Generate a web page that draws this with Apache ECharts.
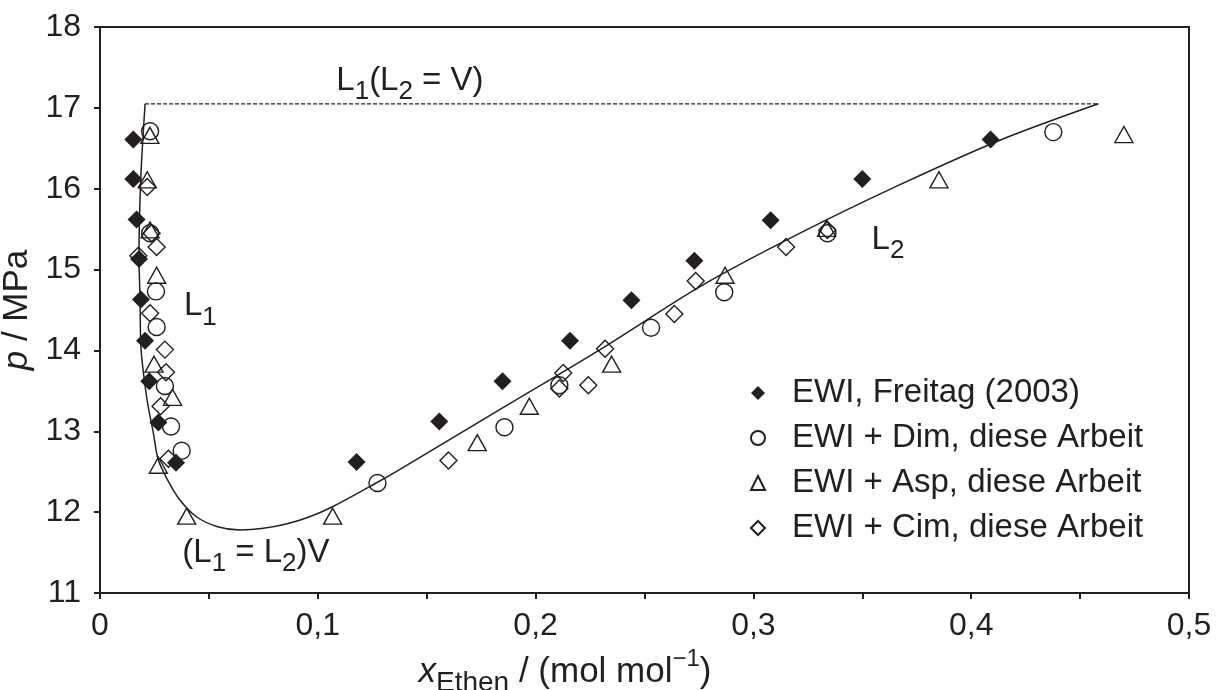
<!DOCTYPE html>
<html><head><meta charset="utf-8">
<script src="https://cdn.jsdelivr.net/npm/echarts@6/dist/echarts.min.js"></script>
<style>html,body{margin:0;padding:0;background:#fff}#c{width:1221px;height:690px}</style>
</head><body><div id="c"></div>
<script>
// ---- data ----
const freitagX = [0.0153,0.0153,0.0168,0.0179,0.0188,0.0207,0.0226,0.0268,0.0349,0.1178,0.1558,0.1848,0.2158,0.2440,0.2729,0.3079,0.3500,0.4089];
const freitagP = [16.61,16.12,15.62,15.13,14.63,14.12,13.62,13.11,12.61,12.62,13.12,13.62,14.12,14.62,15.11,15.61,16.12,16.61];

const dimX = [0.0230,0.0230,0.0257,0.0260,0.0298,0.0326,0.0375,0.1274,0.1857,0.2109,0.2530,0.2866,0.3340,0.4377];
const dimP = [16.71,15.45,14.73,14.29,13.56,13.06,12.76,12.36,13.05,13.57,14.28,14.72,15.45,16.70];

const aspX = [0.0229,0.0217,0.0230,0.0260,0.0248,0.0333,0.0268,0.0398,0.1068,0.1732,0.1971,0.2349,0.2870,0.3336,0.3852,0.4701];
const aspP = [16.66,16.11,15.49,14.93,13.83,13.42,12.58,11.95,11.95,12.86,13.31,13.83,14.93,15.51,16.11,16.67];

const cimX = [0.0176,0.0217,0.0237,0.0260,0.0230,0.0298,0.0303,0.0278,0.0314,0.1600,0.2109,0.2127,0.2242,0.2319,0.2637,0.2735,0.3150,0.3340];
const cimP = [15.17,16.02,15.45,15.28,14.46,14.01,13.73,13.31,12.66,12.64,13.53,13.72,13.57,14.02,14.45,14.86,15.28,15.49];

const curveX = [0.0207,0.0187,0.0179,0.0184,0.0188,0.0216,0.0245,0.0267,0.0310,0.0367,0.0444,0.0540,0.0643,0.0750,0.0850,0.0950,0.1070,0.1274,0.1377,0.1837,0.2296,0.2755,0.3214,0.3673,0.4132,0.4584];
const curveP = [17.05,16.11,15.16,14.63,14.04,13.39,12.98,12.65,12.40,12.15,11.94,11.82,11.78,11.80,11.85,11.93,12.07,12.37,12.53,13.27,14.01,14.79,15.45,16.05,16.60,17.05];

const dashX = [0.0207,0.4584];
const dashP = [17.05,17.05];

const seriesNames = ['EWI, Freitag (2003)','EWI + Dim, diese Arbeit','EWI + Asp, diese Arbeit','EWI + Cim, diese Arbeit'];

// annotation texts and anchor positions (data coordinates)
const annoText = ['{m|L}{s|1}{m|(L}{s|2}{m| = V)}','{m|L}{s|1}','{m|L}{s|2}','{m|(L}{s|1}{m| = L}{s|2}{m|)V}'];
const annoX = [0.1423,0.0461,0.3618,0.0716];
const annoP = [17.33,14.545,15.367,11.50];

// ---- chart ----
const INK = '#231f20';
const FONT = '"Liberation Sans", Arial, Helvetica, sans-serif';
const pairs = (xs, ys) => xs.map((x, i) => [x, ys[i]]);
const rich = {
  m: {fontSize: 33, lineHeight: 48, fontFamily: FONT, color: INK},
  s: {fontSize: 26, lineHeight: 27, fontFamily: FONT, color: INK, verticalAlign: 'bottom'}
};
const titleRich = {
  m: {fontSize: 35, lineHeight: 50, fontFamily: FONT, color: INK},
  i: {fontSize: 35, lineHeight: 50, fontFamily: FONT, color: INK, fontStyle: 'italic'},
  s: {fontSize: 28, lineHeight: 30, fontFamily: FONT, color: INK, verticalAlign: 'bottom'},
  u: {fontSize: 24, lineHeight: 36, fontFamily: FONT, color: INK, verticalAlign: 'top'}
};

const chart = echarts.init(document.getElementById('c'), null, {renderer: 'canvas'});
const fmtX = v => {
  const t = Math.round(v * 10);
  if (Math.abs(v * 10 - t) > 1e-6) return '';
  return t === 0 ? '0' : (t / 10).toFixed(1).replace('.', ',');
};
const openStyle = {color: 'rgba(255,255,255,0)', borderColor: INK, borderWidth: 1.4, opacity: 1};

chart.setOption({
  animation: false,
  backgroundColor: '#fff',
  grid: {left: 100, right: 32, top: 27, bottom: 97, containLabel: false, outerBoundsMode: 'none',
         show: true, borderColor: INK, borderWidth: 2, backgroundColor: 'transparent'},
  legend: {
    data: seriesNames,
    orient: 'vertical', left: 745, top: 371,
    itemWidth: 14, itemHeight: 14, itemGap: 11,
    textStyle: {fontSize: 33, fontFamily: FONT, color: INK, lineHeight: 34, padding: [0, 0, 0, 22]},
    selectedMode: false
  },
  xAxis: {
    type: 'value', min: 0, max: 0.5, interval: 0.05,
    axisLine: {lineStyle: {color: INK, width: 2}},
    axisTick: {show: true, inside: false, length: 6, lineStyle: {color: INK, width: 2}},
    splitLine: {show: false},
    axisLabel: {formatter: fmtX, fontSize: 32, fontFamily: FONT, color: INK, margin: 17, showMinLabel: true, showMaxLabel: true},
    name: '{i|x}{s|Ethen}{m| / (mol mol}{u|−1}{m|)}',
    nameLocation: 'middle', nameGap: 46,
    nameTextStyle: {rich: titleRich, padding: [0, 159, 0, 0]}
  },
  yAxis: {
    type: 'value', min: 11, max: 18, interval: 1,
    axisLine: {show: true, lineStyle: {color: INK, width: 2}},
    axisTick: {show: true, inside: false, length: 6, lineStyle: {color: INK, width: 2}},
    splitLine: {show: false},
    axisLabel: {fontSize: 32, fontFamily: FONT, color: INK, margin: 19},
    name: '{i|p}{m| / MPa}',
    nameLocation: 'middle', nameGap: 55,
    nameTextStyle: {rich: titleRich}
  },
  series: [
    {
      name: 'curve', type: 'line', data: pairs(curveX, curveP), smooth: 0.3,
      symbol: 'none', lineStyle: {color: INK, width: 1.5}, z: 1, silent: true
    },
    {
      name: 'dash', type: 'line', data: pairs(dashX, dashP),
      symbol: 'none', lineStyle: {color: INK, width: 1.2, type: [4, 2]}, z: 1, silent: true,
      markPoint: {
        symbol: 'circle', symbolSize: 1, itemStyle: {color: 'rgba(0,0,0,0)'}, silent: true,
        label: {show: true, position: 'inside', rich: rich},
        data: annoText.map((t, i) => ({coord: [annoX[i], annoP[i]], label: {formatter: t}}))
      }
    },
    {
      name: seriesNames[1], type: 'scatter', data: pairs(dimX, dimP),
      symbol: 'circle', symbolSize: 17, itemStyle: openStyle, z: 2
    },
    {
      name: seriesNames[2], type: 'scatter', data: pairs(aspX, aspP),
      symbol: 'triangle', symbolSize: [18, 16], itemStyle: openStyle, z: 2
    },
    {
      name: seriesNames[3], type: 'scatter', data: pairs(cimX, cimP),
      symbol: 'diamond', symbolSize: 17, itemStyle: openStyle, z: 2
    },
    {
      name: seriesNames[0], type: 'scatter', data: pairs(freitagX, freitagP),
      symbol: 'diamond', symbolSize: 18, itemStyle: {color: INK, opacity: 1}, z: 3
    }
  ]
});
</script></body></html>
